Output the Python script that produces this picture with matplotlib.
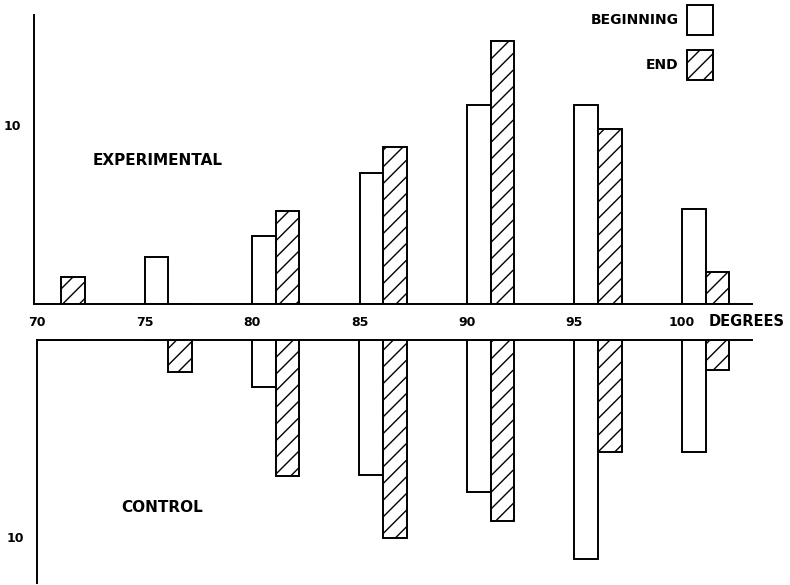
import matplotlib
matplotlib.use("Agg")
import matplotlib.pyplot as plt
import numpy as np

# temperature groups (degrees) and bar heights
degrees = [70, 75, 80, 85, 90, 95, 100]
exp_begin = [0, 2.6, 3.8, 7.3, 11.1, 11.1, 5.3]
exp_end = [1.5, 0, 5.2, 8.8, 14.7, 9.8, 1.8]
ctl_begin = [0, 0, 2.4, 6.85, 7.7, 11.1, 5.7]
ctl_end = [0, 1.6, 6.9, 10.05, 9.2, 5.7, 1.5]
tick_labels = ['70', '75', '80', '85', '90', '95', '100']

plt.rcParams['font.family'] = 'DejaVu Sans'
plt.rcParams['font.weight'] = 'bold'
plt.rcParams['hatch.linewidth'] = 1.0

W, H = 790, 585
fig = plt.figure(figsize=(W / 100, H / 100), dpi=100)

def px_axes(x0, y0, x1, y1):
    # pixel box (top-left origin) -> figure axes
    return fig.add_axes([x0 / W, 1 - y1 / H, (x1 - x0) / W, (y1 - y0) / H])

x = np.array(degrees, dtype=float)
bw = 1.1
lw = 1.4

# top panel: experimental
ax1 = px_axes(34, 15, 752, 304)
b1 = ax1.bar(x, exp_begin, width=bw, align='edge', facecolor='white',
             edgecolor='black', linewidth=lw, label='BEGINNING')
b2 = ax1.bar(x + bw, exp_end, width=bw, align='edge', facecolor='white',
             edgecolor='black', linewidth=lw, hatch='//', label='END')
ax1.set_xlim(69.85, 103.26)
ax1.set_ylim(0, 16.15)
for s in ['top', 'right']:
    ax1.spines[s].set_visible(False)
for s in ['left', 'bottom']:
    ax1.spines[s].set_linewidth(1.4)
ax1.set_xticks(degrees)
ax1.set_xticklabels(tick_labels, fontsize=9, fontweight='bold')
ax1.set_yticks([10])
ax1.set_yticklabels(['10'], fontsize=9, fontweight='bold')
ax1.tick_params(axis='x', length=0, pad=9)
ax1.tick_params(axis='y', length=0, pad=9)
ax1.text(72.6, 8.0, 'EXPERIMENTAL', fontsize=11, fontweight='bold',
         va='center', ha='left')

# bottom panel: control (bars hang down)
ax2 = px_axes(37, 340, 752, 583)
ax2.bar(x, ctl_begin, width=bw, align='edge', facecolor='white',
        edgecolor='black', linewidth=lw)
ax2.bar(x + bw, ctl_end, width=bw, align='edge', facecolor='white',
        edgecolor='black', linewidth=lw, hatch='//')
ax2.set_xlim(70.0, 103.26)
ax2.set_ylim(12.34, 0)
for s in ['bottom', 'right']:
    ax2.spines[s].set_visible(False)
for s in ['left', 'top']:
    ax2.spines[s].set_linewidth(1.4)
ax2.set_xticks([])
ax2.set_yticks([10])
ax2.set_yticklabels(['10'], fontsize=9, fontweight='bold')
ax2.tick_params(axis='y', length=0, pad=9)
ax2.text(73.9, 8.5, 'CONTROL', fontsize=11, fontweight='bold',
         va='center', ha='left')

fig.text(709 / W, 1 - 321 / H, 'DEGREES', fontsize=10.5, fontweight='bold',
         va='center', ha='left')

fig.legend(handles=[b1, b2], loc='upper right', markerfirst=False,
           frameon=False, fontsize=10, handlelength=1.87, handleheight=2.95,
           handletextpad=0.6, labelspacing=1.1, borderpad=0, borderaxespad=0,
           bbox_to_anchor=(713 / W, 1 - 5 / H), bbox_transform=fig.transFigure)

fig.savefig('out.png', dpi=100)
